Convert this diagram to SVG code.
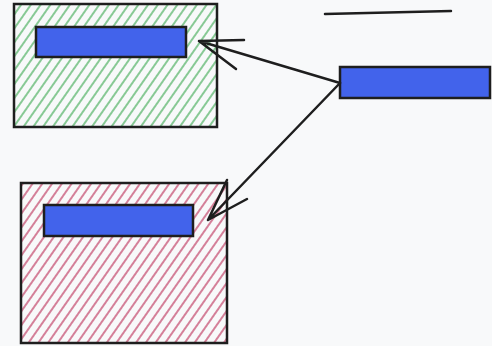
<svg xmlns="http://www.w3.org/2000/svg" width="492" height="346" viewBox="0 0 492 346">
<style>
.edge{fill:none;stroke:#1e1e1e;stroke-width:2.5;stroke-linecap:round;stroke-linejoin:round}
.bar{fill:#4263eb;stroke:#1e1e1e;stroke-width:2.5}
.frame{stroke:#1e1e1e;stroke-width:2.5}
</style>
<defs>
<pattern id="hg" width="8" height="8" patternUnits="userSpaceOnUse" patternTransform="rotate(-55)">
<line x1="0" y1="4" x2="8" y2="4" stroke="#7cc48a" stroke-width="1.8"/>
</pattern>
<pattern id="hr" width="8" height="8" patternUnits="userSpaceOnUse" patternTransform="rotate(-55)">
<line x1="0" y1="4" x2="8" y2="4" stroke="#d0738f" stroke-width="1.8"/>
</pattern>
</defs>
<rect width="492" height="346" fill="#f8f9fa"/>
<g id="node-green">
<rect class="frame" x="14" y="4" width="203" height="123" fill="url(#hg)"/>
<rect class="bar" x="36" y="27" width="150" height="30"/>
</g>
<g id="node-red">
<rect class="frame" x="21" y="183" width="206" height="160" fill="url(#hr)"/>
<rect class="bar" x="44" y="205" width="149" height="31"/>
</g>
<g id="node-right">
<rect class="bar" x="340" y="67" width="150" height="31"/>
</g>
<g id="node-line">
<path class="edge" d="M325 14 L451 11"/>
</g>
<g id="connectors">
<path class="edge" d="M340 83 L199 41 M199 41 L244 40 M199 41 L236 69"/>
<path class="edge" d="M340 83 L208 220 M208 220 L227 180 M208 220 L247 199"/>
</g>
</svg>
